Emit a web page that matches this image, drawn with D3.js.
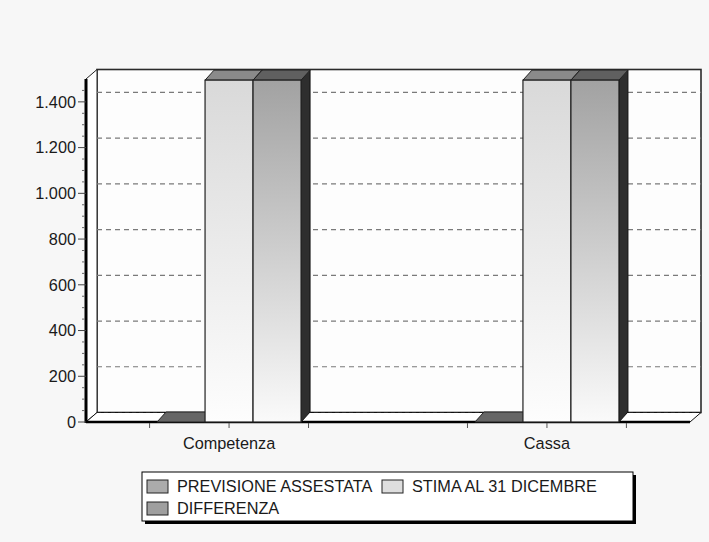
<!DOCTYPE html>
<html>
<head>
<meta charset="utf-8">
<script src="https://cdn.jsdelivr.net/npm/d3@7"></script>
<style>
  html, body { margin: 0; padding: 0; background: #f7f7f7; }
  svg { display: block; }
  text { font-family: "Liberation Sans", Arial, sans-serif; fill: #1a1a1a; }
</style>
</head>
<body>
<svg id="chart" width="709" height="542"></svg>
<script>
// Categories, series and values
const categories = ["Competenza", "Cassa"];
const seriesNames = ["PREVISIONE ASSESTATA", "STIMA AL 31 DICEMBRE", "DIFFERENZA"];
const previsione = [0, 0];
const stima = [1495, 1495];
const differenza = [1495, 1495];
const yTicks = [0, 200, 400, 600, 800, 1000, 1200, 1400];

const seriesValues = [previsione, stima, differenza];

// Colours per series: front gradient (top -> bottom), top face, side face, legend swatch
const styles = [
  { top: "#b0b0b0", bottom: "#f4f4f4", cap: "#666666", side: "#333333", swatch: "#ababab" },
  { top: "#d9d9d9", bottom: "#fdfdfd", cap: "#8a8a8a", side: "#333333", swatch: "#dedede" },
  { top: "#a2a2a2", bottom: "#fafafa", cap: "#606060", side: "#2e2e2e", swatch: "#9f9f9f" }
];

const svg = d3.select("#chart");
const fmt = d3.formatLocale({ decimal: ",", thousands: ".", grouping: [3], currency: ["€", ""] }).format(",d");
const fontSize = "16.3px";

// Plot geometry (front plane) and 3D depth offsets
const x0 = 86, x1 = 690, yBase = 422, yTop = 79;
const wallDx = 11, wallDy = -9.5;
const barDx = 9, barDy = -10;

const y = d3.scaleLinear().domain([0, 1500]).range([yBase, yTop]);
const x = d3.scalePoint().domain(categories).range([x0, x1]).padding(0.45);
const inner = d3.scaleBand().domain(seriesNames).range([-72, 72]);

const defs = svg.append("defs");
styles.forEach((s, i) => {
  const g = defs.append("linearGradient").attr("id", "grad" + i)
    .attr("x1", 0).attr("y1", 0).attr("x2", 0).attr("y2", 1);
  g.append("stop").attr("offset", "0%").attr("stop-color", s.top);
  g.append("stop").attr("offset", "100%").attr("stop-color", s.bottom);
});

const pts = a => a.map(p => p.join(",")).join(" ");

// Back wall
svg.append("rect")
  .attr("x", x0 + wallDx).attr("y", yTop + wallDy)
  .attr("width", x1 - x0).attr("height", yBase - yTop)
  .attr("fill", "#fdfdfd").attr("stroke", "#2a2a2a").attr("stroke-width", 1.6);

// Left side wall
svg.append("polygon")
  .attr("points", pts([[x0, yTop], [x0 + wallDx, yTop + wallDy], [x0 + wallDx, yBase + wallDy], [x0, yBase]]))
  .attr("fill", "#ffffff").attr("stroke", "#222").attr("stroke-width", 1);

// Gridlines on the back wall
svg.append("g").selectAll("line").data(yTicks.filter(d => d > 0)).join("line")
  .attr("x1", x0 + wallDx).attr("x2", x1 + wallDx)
  .attr("y1", d => y(d) + wallDy).attr("y2", d => y(d) + wallDy)
  .attr("stroke", "#7a7a7a").attr("stroke-width", 1.2).attr("stroke-dasharray", "5,4");

// Floor
svg.append("polygon")
  .attr("points", pts([[x0, yBase], [x0 + wallDx, yBase + wallDy], [x1 + wallDx, yBase + wallDy], [x1, yBase]]))
  .attr("fill", "#ffffff").attr("stroke", "#111").attr("stroke-width", 1);
svg.append("line")
  .attr("x1", x0 + wallDx).attr("x2", x1 + wallDx)
  .attr("y1", yBase + wallDy).attr("y2", yBase + wallDy)
  .attr("stroke", "#222").attr("stroke-width", 1.2).attr("stroke-dasharray", "4,3");
svg.append("line")
  .attr("x1", x0).attr("x2", x1).attr("y1", yBase).attr("y2", yBase)
  .attr("stroke", "#000").attr("stroke-width", 2.6);

// Y axis: thick front edge, major and minor ticks, labels
svg.append("line")
  .attr("x1", x0).attr("x2", x0).attr("y1", yTop).attr("y2", yBase + 1)
  .attr("stroke", "#000").attr("stroke-width", 3);
svg.append("g").selectAll("line").data(d3.range(50, 1500, 50).filter(d => d % 200 !== 0)).join("line")
  .attr("x1", x0 - 4).attr("x2", x0 - 1.5)
  .attr("y1", d => y(d)).attr("y2", d => y(d))
  .attr("stroke", "#666").attr("stroke-width", 1);
svg.append("g").selectAll("line").data(yTicks).join("line")
  .attr("x1", x0 - 8).attr("x2", x0)
  .attr("y1", d => y(d)).attr("y2", d => y(d))
  .attr("stroke", "#444").attr("stroke-width", 1);
svg.append("g").selectAll("text").data(yTicks).join("text")
  .attr("x", x0 - 10).attr("y", d => y(d))
  .attr("dy", "0.36em").attr("text-anchor", "end")
  .style("font-size", fontSize)
  .text(d => fmt(d));

// X axis ticks and category labels
const quarter = x.step() / 4;
const xTicks = categories.flatMap(c => [x(c) - quarter, x(c), x(c) + quarter]);
svg.append("g").selectAll("line").data(xTicks).join("line")
  .attr("x1", d => d).attr("x2", d => d)
  .attr("y1", yBase + 1).attr("y2", yBase + 6)
  .attr("stroke", "#555").attr("stroke-width", 1);
svg.append("g").selectAll("text").data(categories).join("text")
  .attr("x", d => x(d)).attr("y", 449)
  .attr("text-anchor", "middle")
  .style("font-size", fontSize)
  .text(d => d);

// 3D bars
const bars = svg.append("g");
categories.forEach((cat, ci) => {
  seriesNames.forEach((name, si) => {
    const v = seriesValues[si][ci];
    const s = styles[si];
    const bx0 = x(cat) + inner(name);
    const bx1 = bx0 + inner.bandwidth();
    const by = y(v);
    const g = bars.append("g");
    // side face
    g.append("polygon")
      .attr("points", pts([[bx1, by], [bx1 + barDx, by + barDy], [bx1 + barDx, yBase + barDy], [bx1, yBase]]))
      .attr("fill", s.side).attr("stroke", "#111").attr("stroke-width", 1);
    // top face
    g.append("polygon")
      .attr("points", pts([[bx0, by], [bx0 + barDx, by + barDy], [bx1 + barDx, by + barDy], [bx1, by]]))
      .attr("fill", s.cap).attr("stroke", "#222").attr("stroke-width", 1);
    // front face
    if (yBase - by > 0) {
      g.append("rect")
        .attr("x", bx0).attr("y", by)
        .attr("width", bx1 - bx0).attr("height", yBase - by)
        .attr("fill", "url(#grad" + si + ")")
        .attr("stroke", "#222").attr("stroke-width", 1.2);
    }
  });
});

// Legend
const lg = svg.append("g").attr("transform", "translate(142,472)");
lg.append("rect").attr("x", 3).attr("y", 3).attr("width", 491).attr("height", 49).attr("fill", "#000");
lg.append("rect").attr("x", 0).attr("y", 0).attr("width", 491).attr("height", 49)
  .attr("fill", "#fff").attr("stroke", "#000").attr("stroke-width", 1);
const legendPos = [[5, 8], [240, 8], [5, 30]];
seriesNames.forEach((name, i) => {
  const [lx, ly] = legendPos[i];
  lg.append("rect").attr("x", lx).attr("y", ly).attr("width", 21).attr("height", 13)
    .attr("fill", styles[i].swatch).attr("stroke", "#222").attr("stroke-width", 1);
  lg.append("text").attr("x", lx + 30).attr("y", ly + 12)
    .style("font-size", fontSize).text(name);
});
</script>
</body>
</html>
